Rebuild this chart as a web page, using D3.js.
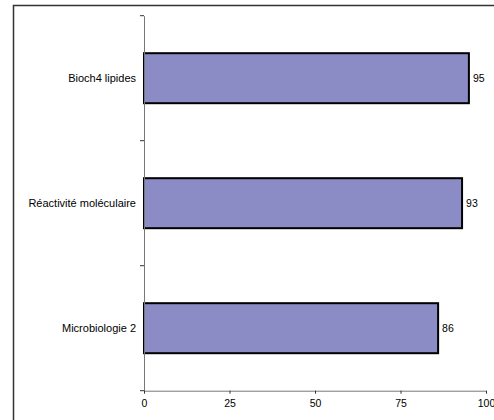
<!DOCTYPE html>
<html><head><meta charset="utf-8">
<script src="https://cdn.jsdelivr.net/npm/d3@7"></script>
<style>body{margin:0;background:#fff}svg{display:block}</style>
</head><body>
<svg id="c" width="494" height="420"></svg>
<script>
const categories = ["Bioch4 lipides", "Réactivité moléculaire", "Microbiologie 2"];
const values = [95, 93, 86];
const xTicks = [0, 25, 50, 75, 100];

const svg = d3.select("#c");
const font = "Liberation Sans, Arial, sans-serif";

// outer frame
svg.append("rect").attr("x", 13.5).attr("y", 5.5).attr("width", 500).attr("height", 430)
  .attr("fill", "#fff").attr("stroke", "#333").attr("stroke-width", 1.5);

const m = {left: 144, top: 15.7, right: 486, bottom: 390.7};
const x = d3.scaleLinear().domain([0, 100]).range([m.left, m.right]);
const y = d3.scaleBand().domain(categories).range([m.top, m.bottom]).paddingInner(0.6).paddingOuter(0.3);

// bars
svg.selectAll("rect.bar").data(categories).enter().append("rect")
  .attr("class", "bar")
  .attr("x", x(0))
  .attr("y", d => y(d))
  .attr("width", (d, i) => x(values[i]) - x(0))
  .attr("height", y.bandwidth())
  .attr("fill", "#8b8bc5").attr("stroke", "#000").attr("stroke-width", 2);

// value labels
svg.selectAll("text.val").data(categories).enter().append("text")
  .attr("x", (d, i) => x(values[i]) + 4)
  .attr("y", d => y(d) + y.bandwidth() / 2)
  .attr("dy", "0.35em")
  .attr("font-family", font).attr("font-size", 10.5).attr("fill", "#000")
  .text((d, i) => values[i]);

// y axis
const yAxis = svg.append("g").attr("transform", `translate(${m.left},0)`)
  .call(d3.axisLeft(y).tickSize(0).tickPadding(8));
yAxis.selectAll("text").attr("font-family", font).attr("font-size", 11).attr("fill", "#000");
yAxis.select(".domain").attr("stroke", "#777");
// y band boundary ticks
const bounds = d3.range(categories.length + 1).map(i => m.top + i * (m.bottom - m.top) / categories.length);
svg.selectAll("line.yt").data(bounds).enter().append("line")
  .attr("x1", m.left - 4).attr("x2", m.left).attr("y1", d => d).attr("y2", d => d)
  .attr("stroke", "#333").attr("stroke-width", 1);

// x axis
const xAxis = svg.append("g").attr("transform", `translate(0,${m.bottom})`)
  .call(d3.axisBottom(x).tickValues(xTicks).tickSize(3).tickPadding(6).tickSizeOuter(0));
xAxis.selectAll("text").attr("font-family", font).attr("font-size", 10.5).attr("fill", "#000");
xAxis.select(".domain").attr("stroke", "#777");
xAxis.selectAll(".tick line").attr("stroke", "#333");
</script>
</body></html>
